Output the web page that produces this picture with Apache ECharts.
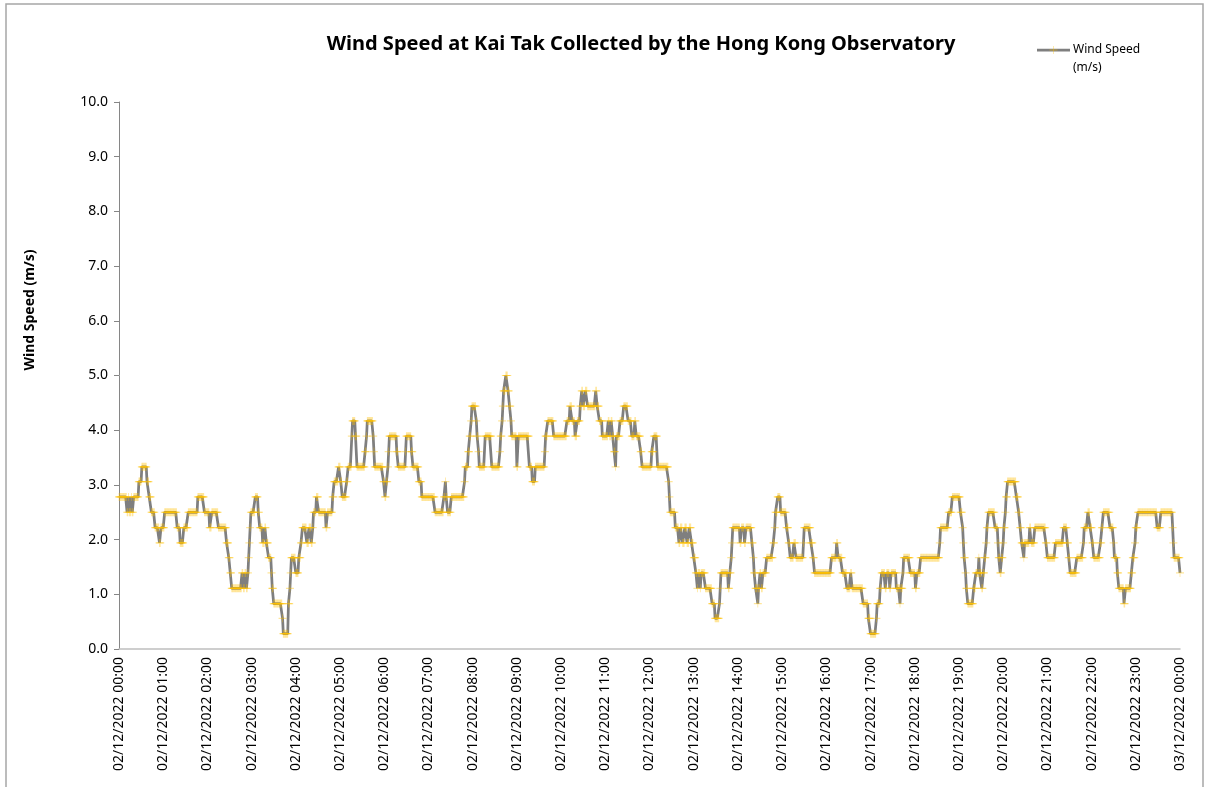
<!DOCTYPE html>
<html>
<head>
<meta charset="utf-8">
<script src="https://cdn.jsdelivr.net/npm/echarts@6/dist/echarts.min.js"></script>
<style>
html,body{margin:0;padding:0;background:#fff;}
#chart{width:1205px;height:787px;}
</style>
</head>
<body>
<div id="chart"></div>
<script>
// Minutes after 02/12/2022 00:00 at which the reading changes, and the reading (m/s) from then on
const changeMin = [0,11,13,14,17,18,20,27,31,38,41,44,49,55,57,62,79,83,88,94,107,116,123,126,135,146,149,151,153,167,169,171,173,175,176,177,178,179,185,189,191,195,198,200,203,207,208,210,222,223,230,232,233,234,240,244,247,249,255,258,261,263,264,268,271,281,283,290,292,298,301,303,309,311,316,317,321,323,334,336,337,345,346,347,359,361,363,365,366,367,377,379,389,390,397,399,407,411,429,441,443,444,446,451,469,470,474,476,478,479,485,486,488,489,497,506,517,518,520,521,522,525,528,530,532,533,540,542,557,561,565,578,579,582,590,608,612,615,619,622,626,628,630,633,636,647,649,652,656,664,666,668,670,672,674,675,680,685,691,696,700,702,708,710,723,726,731,746,747,748,755,760,762,765,768,771,774,777,780,783,785,786,789,790,796,805,809,815,816,817,827,829,831,832,833,843,845,849,851,859,861,862,864,867,868,870,872,874,879,888,890,891,894,898,906,909,911,916,919,929,930,939,942,944,967,974,976,982,988,993,995,1010,1017,1020,1028,1029,1033,1035,1040,1042,1046,1048,1055,1060,1061,1064,1065,1074,1081,1083,1088,1114,1115,1126,1131,1142,1145,1146,1147,1149,1150,1152,1160,1163,1167,1168,1171,1173,1175,1177,1178,1180,1189,1193,1194,1196,1198,1200,1201,1203,1204,1206,1218,1221,1223,1225,1228,1229,1236,1238,1243,1258,1260,1271,1282,1287,1289,1291,1300,1309,1310,1315,1318,1321,1323,1332,1334,1336,1345,1350,1351,1355,1357,1364,1366,1374,1376,1379,1380,1383,1409,1414,1430,1431,1432,1440];
const speed = [2.78,2.5,2.78,2.5,2.78,2.5,2.78,3.06,3.33,3.06,2.78,2.5,2.22,1.94,2.22,2.5,2.22,1.94,2.22,2.5,2.78,2.5,2.22,2.5,2.22,1.94,1.67,1.39,1.11,1.39,1.11,1.39,1.11,1.39,1.67,1.94,2.22,2.5,2.78,2.5,2.22,1.94,2.22,1.94,1.67,1.39,1.11,0.83,0.56,0.28,0.83,1.11,1.39,1.67,1.39,1.67,1.94,2.22,1.94,2.22,1.94,2.22,2.5,2.78,2.5,2.22,2.5,2.78,3.06,3.33,3.06,2.78,3.06,3.33,3.89,4.17,3.89,3.33,3.61,3.89,4.17,3.89,3.61,3.33,3.06,2.78,3.06,3.33,3.61,3.89,3.61,3.33,3.61,3.89,3.61,3.33,3.06,2.78,2.5,2.78,3.06,2.78,2.5,2.78,3.06,3.33,3.61,3.89,4.17,4.44,4.17,3.89,3.61,3.33,3.89,3.33,3.61,3.89,4.17,4.44,4.72,5.0,4.72,4.44,4.17,3.89,3.33,3.89,3.33,3.06,3.33,3.61,3.89,4.17,3.89,4.17,4.44,4.17,3.89,4.17,4.44,4.72,4.44,4.72,4.44,4.72,4.44,4.17,3.89,4.17,3.89,4.17,3.89,3.61,3.33,3.89,4.17,4.44,4.17,3.89,4.17,3.89,3.61,3.33,3.61,3.89,3.33,3.06,2.78,2.5,2.22,1.94,2.22,1.94,2.22,1.94,2.22,1.94,1.67,1.39,1.11,1.39,1.11,1.39,1.11,0.83,0.56,0.83,1.11,1.39,1.11,1.39,1.67,1.94,2.22,1.94,2.22,1.94,2.22,1.94,1.67,1.39,1.11,0.83,1.11,1.39,1.11,1.39,1.67,1.94,2.22,2.5,2.78,2.5,2.22,1.94,1.67,1.94,1.67,1.94,2.22,1.94,1.67,1.39,1.67,1.94,1.67,1.39,1.11,1.39,1.11,0.83,0.56,0.28,0.56,0.83,1.11,1.39,1.11,1.39,1.11,1.39,1.11,0.83,1.11,1.39,1.67,1.39,1.11,1.39,1.67,1.94,2.22,2.5,2.78,2.5,2.22,1.94,1.67,1.39,1.11,0.83,1.11,1.39,1.67,1.39,1.11,1.39,1.67,1.94,2.22,2.5,2.22,1.94,1.67,1.39,1.67,1.94,2.22,2.5,2.78,3.06,2.78,2.5,2.22,1.94,1.67,1.94,2.22,1.94,2.22,1.94,1.67,1.94,2.22,1.94,1.67,1.39,1.67,1.94,2.22,2.5,2.22,1.94,1.67,1.94,2.22,2.5,2.22,1.94,1.67,1.39,1.11,0.83,1.11,1.39,1.67,1.94,2.22,2.5,2.22,2.5,2.22,1.94,1.67,1.39];
// Hourly axis labels
const hourLabels = ['02/12/2022 00:00','02/12/2022 01:00','02/12/2022 02:00','02/12/2022 03:00','02/12/2022 04:00','02/12/2022 05:00','02/12/2022 06:00','02/12/2022 07:00','02/12/2022 08:00','02/12/2022 09:00','02/12/2022 10:00','02/12/2022 11:00','02/12/2022 12:00','02/12/2022 13:00','02/12/2022 14:00','02/12/2022 15:00','02/12/2022 16:00','02/12/2022 17:00','02/12/2022 18:00','02/12/2022 19:00','02/12/2022 20:00','02/12/2022 21:00','02/12/2022 22:00','02/12/2022 23:00','03/12/2022 00:00'];
const yTicks = [0,1,2,3,4,5,6,7,8,9,10];
const seriesName = 'Wind Speed\n(m/s)';

// One reading per minute: each reading holds until the next change
const series = [];
let j = 0;
for (let m = 0; m <= 1440; m++) {
  while (j + 1 < changeMin.length && changeMin[j + 1] <= m) j++;
  series.push([m, speed[j]]);
}

const FONT = '"Noto Sans", "Open Sans", sans-serif';
const plus = 'path://M0,3.4H8V4.6H0Z M3.6,0H4.4V8H3.6Z';
const MARK = 'rgba(255,192,0,0.4)';
const LINE = '#7F7F7F';

const chart = echarts.init(document.getElementById('chart'), null, {renderer: 'canvas'});
chart.setOption({
  animation: false,
  backgroundColor: '#fff',
  title: {
    text: 'Wind Speed at Kai Tak Collected by the Hong Kong Observatory',
    left: 636, top: 29, textAlign: 'center',
    textStyle: {fontFamily: FONT, fontSize: 20, fontWeight: 'bold', color: '#000'}
  },
  graphic: [
    {type: 'rect', shape: {x: 6, y: 4, width: 1197, height: 820}, style: {fill: 'none', stroke: '#A6A6A6', lineWidth: 1.5}, silent: true, z: -1},
    {type: 'text', x: 30, y: 310, rotation: Math.PI / 2,
     style: {text: 'Wind Speed (m/s)', fontFamily: FONT, fontSize: 14, fontWeight: 'bold', fill: '#000', textAlign: 'center', textVerticalAlign: 'middle'}},
    // legend
    {type: 'line', shape: {x1: 1037, y1: 50, x2: 1070, y2: 50}, style: {stroke: LINE, lineWidth: 2.75}},
    {type: 'rect', shape: {x: 1049.5, y: 49.4, width: 8, height: 1.2}, style: {fill: MARK}},
    {type: 'rect', shape: {x: 1053.1, y: 46, width: 0.8, height: 8}, style: {fill: MARK}},
    {type: 'text', x: 1073, y: 41,
     style: {text: seriesName, fontFamily: FONT, fontSize: 12, lineHeight: 18, fill: '#000', textAlign: 'left', textVerticalAlign: 'top'}}
  ],
  grid: {left: 119, right: 25, top: 102, bottom: 138},
  xAxis: {
    type: 'value', min: 0, max: 1440, interval: 60,
    axisLine: {show: true, lineStyle: {color: '#BFBFBF', width: 1.5}},
    axisTick: {show: false},
    splitLine: {show: false},
    axisLabel: {
      rotate: 90, margin: 8, color: '#000', fontFamily: FONT, fontSize: 14,
      formatter: function (v) { return hourLabels[Math.round(v / 60)]; }
    }
  },
  yAxis: {
    type: 'value', min: yTicks[0], max: yTicks[yTicks.length - 1], interval: 1,
    axisLine: {show: true, lineStyle: {color: '#868686', width: 1}},
    axisTick: {show: true, inside: false, length: 5, lineStyle: {color: '#868686'}},
    splitLine: {show: false},
    axisLabel: {
      margin: 11, color: '#000', fontFamily: FONT, fontSize: 14,
      formatter: function (v) { return v.toFixed(1); }
    }
  },
  series: [{
    name: seriesName,
    type: 'line',
    data: series,
    showSymbol: true,
    showAllSymbol: true,
    symbol: plus,
    symbolSize: 8,
    itemStyle: {color: MARK},
    lineStyle: {color: LINE, width: 2.75},
    z: 2
  }]
});
</script>
</body>
</html>
